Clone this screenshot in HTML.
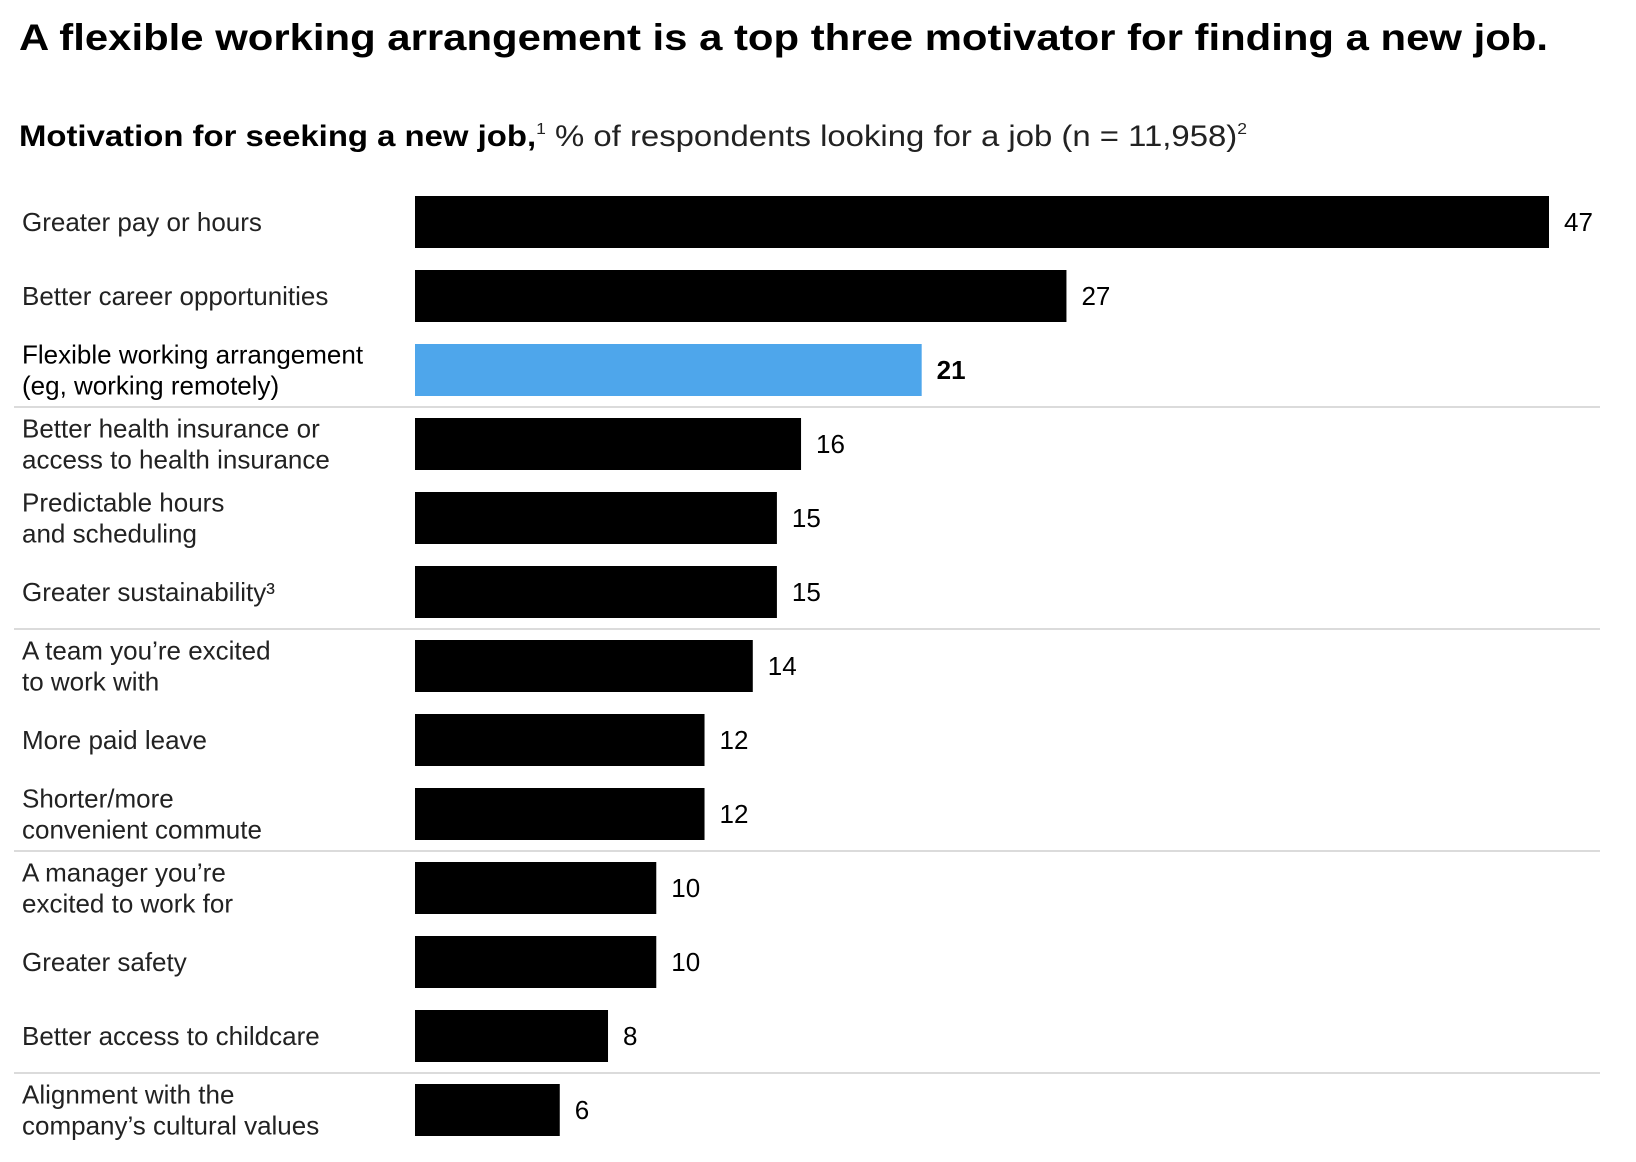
<!DOCTYPE html>
<html><head><meta charset="utf-8"><style>
html,body{margin:0;padding:0;background:#fff;}
svg{display:block;font-family:"Liberation Sans",Arial,sans-serif;}
</style></head><body>
<svg id="chart" width="1636" height="1162" viewBox="0 0 1636 1162" xmlns="http://www.w3.org/2000/svg">
<text x="19" y="50" font-size="37" font-weight="bold" fill="#000" textLength="1529" lengthAdjust="spacingAndGlyphs">A flexible working arrangement is a top three motivator for finding a new job.</text>
<text x="19" y="146" font-size="30" fill="#222" textLength="1228" lengthAdjust="spacingAndGlyphs"><tspan font-weight="bold" fill="#000">Motivation for seeking a new job,</tspan><tspan font-size="16" dy="-12">1</tspan><tspan dy="12"> % of respondents looking for a job (n = 11,958)</tspan><tspan font-size="16" dy="-12">2</tspan></text>
<g id="seps"></g>
<g id="bars"></g>
</svg>
<script>
const categories = [
  ["Greater pay or hours"],
  ["Better career opportunities"],
  ["Flexible working arrangement","(eg, working remotely)"],
  ["Better health insurance or","access to health insurance"],
  ["Predictable hours","and scheduling"],
  ["Greater sustainability³"],
  ["A team you’re excited","to work with"],
  ["More paid leave"],
  ["Shorter/more","convenient commute"],
  ["A manager you’re","excited to work for"],
  ["Greater safety"],
  ["Better access to childcare"],
  ["Alignment with the","company’s cultural values"]
];
const values = [47,27,21,16,15,15,14,12,12,10,10,8,6];
const highlightIndex = 2;
const separatorsAfter = [2,5,8,11];

const NS = "http://www.w3.org/2000/svg";
const x0 = 415, xUnit = 1134/47;
const rowTop = 196, rowPitch = 74, barH = 52;
function xScale(v){ return x0 + v*xUnit; }
function yRow(i){ return rowTop + i*rowPitch; }
const barsG = document.getElementById('bars');
const sepG = document.getElementById('seps');

separatorsAfter.forEach(i=>{
  const y = (yRow(i)+barH + yRow(i+1))/2;
  const l = document.createElementNS(NS,'line');
  
  
  l.setAttribute('x1',14); l.setAttribute('x2',1600);
  l.setAttribute('y1',y); l.setAttribute('y2',y);
  l.setAttribute('stroke','#cfcfcf'); l.setAttribute('stroke-width','1.5');
  sepG.appendChild(l);
});

values.forEach((v,i)=>{
  const hl = i===highlightIndex;
  const top = yRow(i), cy = top + barH/2;
  const r = document.createElementNS(NS,'rect');
  
  
  r.setAttribute('x',x0); r.setAttribute('y',top);
  r.setAttribute('width',xScale(v)-x0); r.setAttribute('height',barH);
  r.setAttribute('fill',hl?'#4ea6eb':'#000');
  barsG.appendChild(r);
  const t = document.createElementNS(NS,'text');
  
  
  t.setAttribute('x',xScale(v)+15); t.setAttribute('y',cy+9);
  t.setAttribute('font-size','26');
  if(hl) t.setAttribute('font-weight','bold');
  t.textContent = v;
  barsG.appendChild(t);
  const lines = categories[i];
  const lab = document.createElementNS(NS,'text');
  
  
  lab.setAttribute('font-size','26');
  lab.setAttribute('fill', hl?'#000':'#222');
  if(hl) lab.setAttribute('font-weight','500');
  const startY = cy + 9 - (lines.length-1)*15.5;
  lines.forEach((s,k)=>{
    const ts = document.createElementNS(NS,'tspan');
    ts.setAttribute('x',22);
    ts.setAttribute('y',startY + k*31);
    ts.textContent = s;
    lab.appendChild(ts);
  });
  barsG.appendChild(lab);
});
</script>
</body></html>
